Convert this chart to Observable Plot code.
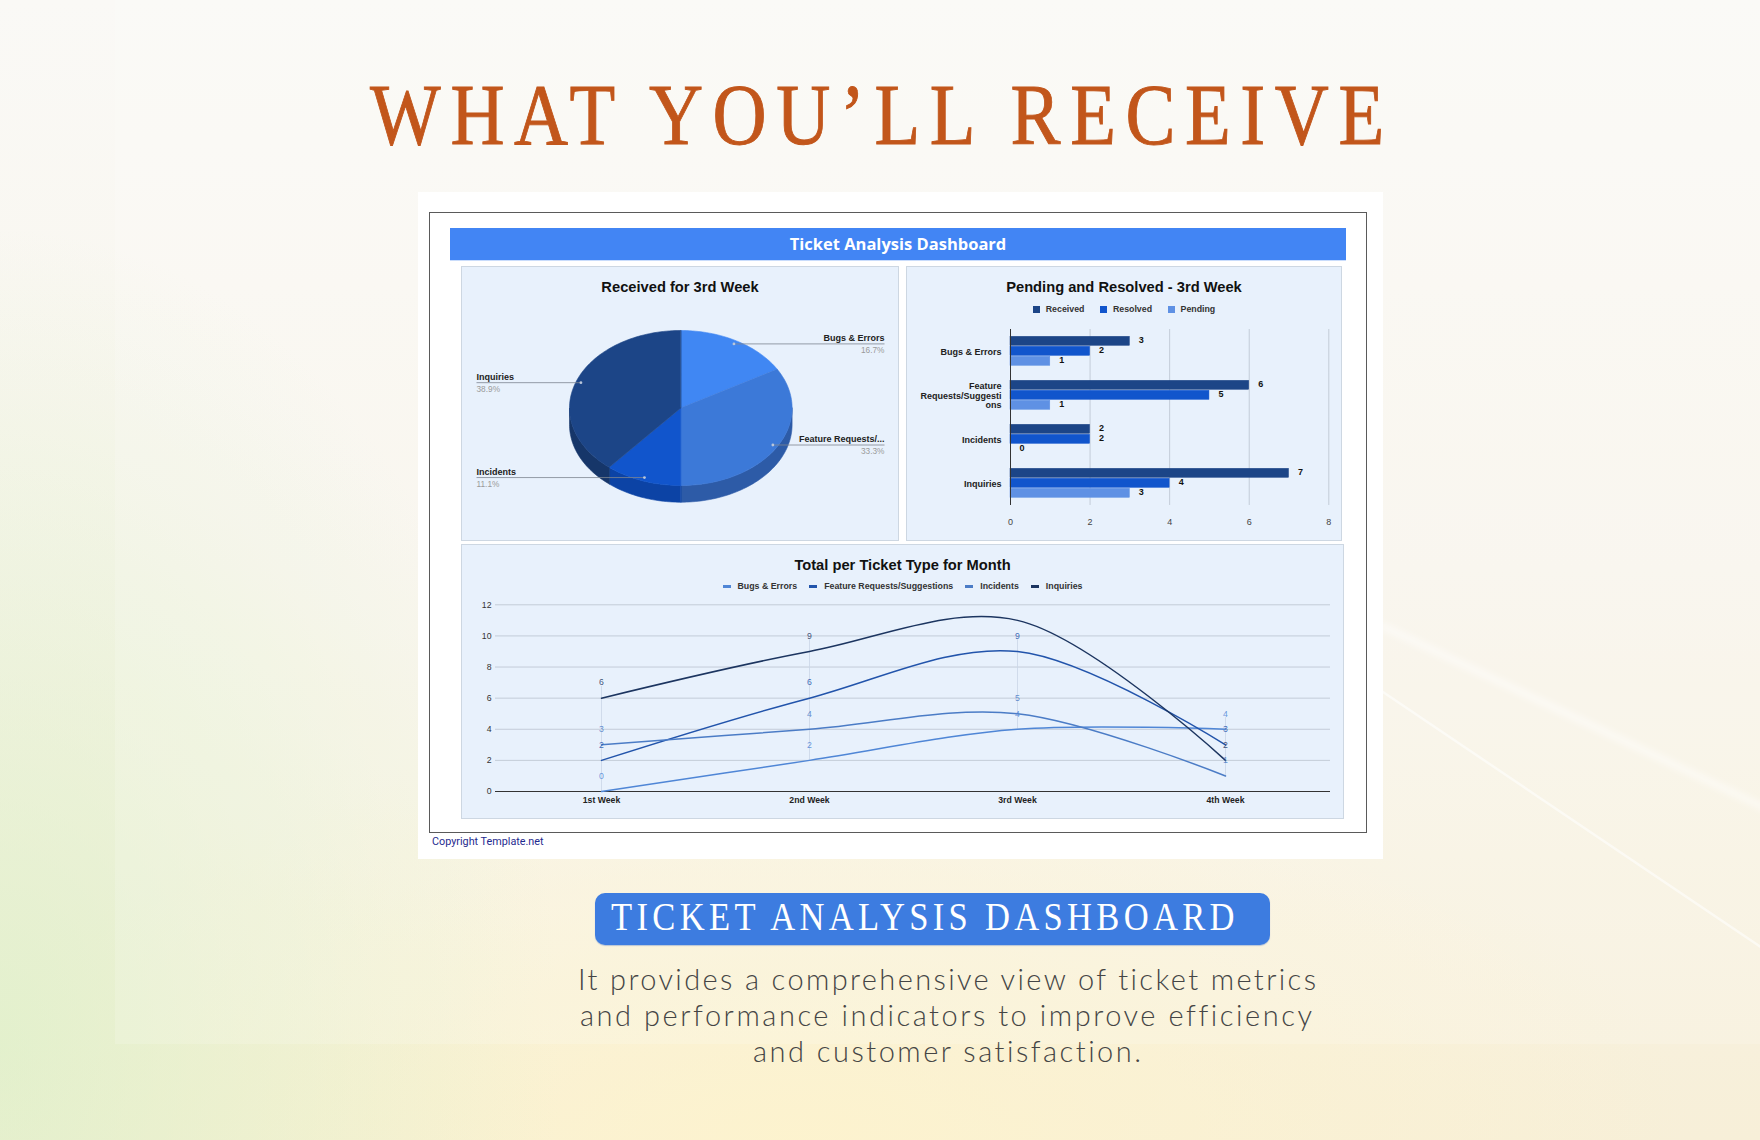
<!DOCTYPE html>
<html>
<head>
<meta charset="utf-8">
<script src="https://cdn.jsdelivr.net/npm/d3@7"></script>
<script src="https://cdn.jsdelivr.net/npm/@observablehq/plot@0.6"></script>
<style>
html, body { margin: 0; padding: 0; }
body { width: 1760px; height: 1140px; position: relative; overflow: hidden; font-family: "Liberation Sans", Arial, sans-serif; }
#bg { position: absolute; inset: 0;
  background:
    radial-gradient(ellipse 560px 820px at 0% 92%, rgba(220,240,200,0.75), rgba(220,240,200,0) 100%),
    radial-gradient(ellipse 900px 400px at 45% 100%, rgba(253,243,205,0.9), rgba(253,243,205,0) 100%),
    linear-gradient(to bottom, #faf9f6 0%, #f8f5ec 50%, #f7efd8 100%);
}
#veil { position: absolute; left: 115px; top: 0; width: 1645px; height: 1044px; background: rgba(255,255,255,0.16); }
#streaks { position: absolute; left: 0; top: 0; }
#card { position: absolute; left: 418px; top: 192px; width: 965px; height: 667px; background: #fff; }
#box { position: absolute; left: 429px; top: 212px; width: 938px; height: 621px; border: 1px solid #5a5a5a; box-sizing: border-box; }
#hdr { position: absolute; left: 450px; top: 228px; width: 896px; height: 32px; background: #4285f4; color: #fff;
  font-family: "Open Sans", sans-serif; font-weight: 700; font-size: 16.5px; line-height: 32px; text-align: center; box-shadow: 0 1px 0 #c9dcfb; }
.panel { position: absolute; background: #e8f1fc; box-shadow: inset 0 0 0 1px #cdd7e2; }
.panel svg { position: absolute; left: 0; top: 0; }
.ptitle { position: absolute; left: 0; right: 0; text-align: center; font-weight: 700; font-size: 14.7px; color: #111; line-height: 16px; }
.legend { position: absolute; left: 0; right: 0; display: flex; justify-content: center; align-items: center; font-size: 8.8px; font-weight: 700; color: #333; line-height: 10px; }
.legend .item { display: flex; align-items: center; }
.legend .sw { display: inline-block; }
#copy { position: absolute; left: 432px; top: 835px; font-family: Roboto, sans-serif; font-size: 10.8px; color: #1f2a8f; }
#pill { position: absolute; left: 595px; top: 893px; width: 675px; height: 52px; background: #3d7ce0; border-radius: 10px; box-shadow: 0 1px 1px rgba(60,110,200,0.35); }
#texts { position: absolute; left: 0; top: 0; }
</style>
</head>
<body>
<div id="bg"></div>
<div id="veil"></div>
<svg id="streaks" width="1760" height="1140">
  <defs><filter id="blur"><feGaussianBlur stdDeviation="3"/></filter></defs>
  <line x1="1380" y1="625" x2="1780" y2="815" stroke="#ffffff" stroke-opacity="0.5" stroke-width="7" filter="url(#blur)"/>
  <line x1="1380" y1="690" x2="1780" y2="960" stroke="#ffffff" stroke-opacity="0.55" stroke-width="2.5"/>
</svg>
<div id="card"></div>
<div id="box"></div>
<div id="hdr">Ticket Analysis Dashboard</div>

<div class="panel" id="p1" style="left:461px;top:266px;width:438px;height:275px;">
  <div class="ptitle" style="top:13px;">Received for 3rd Week</div>
</div>
<div class="panel" id="p2" style="left:906px;top:266px;width:436px;height:275px;">
  <div class="ptitle" style="top:13px;">Pending and Resolved - 3rd Week</div>
  <div class="legend" id="lg2" style="top:38px;"></div>
</div>
<div class="panel" id="p3" style="left:461px;top:544px;width:883px;height:275px;">
  <div class="ptitle" style="top:13px;">Total per Ticket Type for Month</div>
  <div class="legend" id="lg3" style="top:37px;"></div>
</div>

<div id="copy">Copyright Template.net</div>
<div id="pill"></div>

<svg id="texts" width="1760" height="1140">
  <text id="t1" x="882" y="144" text-anchor="middle" fill="#c2561b" stroke="#c2561b" stroke-width="0.9" font-family="Liberation Serif, serif" font-size="86" letter-spacing="11">WHAT YOU’LL RECEIVE</text>
  <text id="t2" x="925" y="930" text-anchor="middle" fill="#ffffff" font-family="Liberation Serif, serif" font-size="40" letter-spacing="5">TICKET ANALYSIS DASHBOARD</text>
  <g font-family="Lato, 'Open Sans', sans-serif" font-weight="300" font-size="29" fill="#454545" letter-spacing="1">
    <text x="578" y="990" textLength="739" lengthAdjust="spacing">It provides a comprehensive view of ticket metrics</text>
    <text x="580" y="1026" textLength="733" lengthAdjust="spacing">and performance indicators to improve efficiency</text>
    <text x="753" y="1062" textLength="389" lengthAdjust="spacing">and customer satisfaction.</text>
  </g>
</svg>

<script>
// ---------------- DATA ----------------
const ticketTypes = ["Bugs & Errors", "Feature Requests/Suggestions", "Incidents", "Inquiries"];
const pieLabels = ["Bugs & Errors", "Feature Requests/...", "Incidents", "Inquiries"];
const barCategoryLabels = ["Bugs & Errors", "Feature\nRequests/Suggesti\nons", "Incidents", "Inquiries"];
const barSeries = ["Received", "Resolved", "Pending"];
const receivedWeek3 = [3, 6, 2, 7];
const resolvedWeek3 = [2, 5, 2, 4];
const pendingWeek3 = [1, 1, 0, 3];
const barTicks = [0, 2, 4, 6, 8];
const weeks = ["1st Week", "2nd Week", "3rd Week", "4th Week"];
const bugsErrors = [0, 2, 4, 4];
const featureRequests = [2, 6, 9, 3];
const incidents = [3, 4, 5, 1];
const inquiries = [6, 9, 11, 2];
const lineTicks = [0, 2, 4, 6, 8, 10, 12];

// ---------------- STYLE ----------------
const FONT = "'Liberation Sans', Arial, sans-serif";
const pieTop = ["#4087f3", "#3c79d8", "#1155cc", "#1c4587"];
const pieSide = ["#2f66bd", "#2d5ba7", "#0c43a5", "#163669"];
const barColors = ["#1c4587", "#1155cc", "#5f91e4"];
const lineColors = ["#4f86d6", "#2254ab", "#4b7cc6", "#1c3560"];

// fit headline widths
function fitText(id, target, cx) {
  const el = document.getElementById(id);
  const w = el.getBBox().width;
  const s = target / w;
  el.setAttribute("transform", `translate(${cx},0) scale(${s},1) translate(${-cx},0)`);
}
fitText("t1", 1024, 882);
fitText("t2", 628, 925);

// ---------------- PIE ----------------
{
  const W = 438, H = 275;
  const cx = 219.3, cy = 141.5, rx = 111.3, ry = 77.5, depth = 16.7;
  const total = d3.sum(receivedWeek3);
  const arcs = d3.pie().sort(null).value(d => d)(receivedWeek3);
  const ex = (a, k = 1) => cx + k * rx * Math.sin(a);
  const ey = (a, k = 1) => cy - k * ry * Math.cos(a);
  const arcPts = (a0, a1, off = 0) => {
    const n = Math.max(2, Math.ceil((a1 - a0) / (Math.PI / 120)));
    return d3.range(n + 1).map(j => { const a = a0 + (a1 - a0) * j / n; return [ex(a), ey(a) + off]; });
  };
  const polys = [];
  arcs.forEach((a, i) => {
    const s0 = Math.max(a.startAngle, Math.PI / 2), s1 = Math.min(a.endAngle, 3 * Math.PI / 2);
    if (s0 < s1) {
      [...arcPts(s0, s1), ...arcPts(s0, s1, depth).reverse()]
        .forEach(([x, y]) => polys.push({ id: "side" + i, x, y, col: pieSide[i] }));
    }
  });
  arcs.forEach((a, i) => {
    [[cx, cy], ...arcPts(a.startAngle, a.endAngle)]
      .forEach(([x, y]) => polys.push({ id: "top" + i, x, y, col: pieTop[i] }));
  });
  const labels = arcs.map((a, i) => {
    const m = (a.startAngle + a.endAngle) / 2;
    const right = Math.sin(m) > 0;
    return {
      name: pieLabels[i], pct: d3.format(".1%")(a.value / total), right,
      dx: ex(m, 0.955), dy: ey(m, 0.955), lx: right ? 423 : 15
    };
  });
  const R = labels.filter(d => d.right), L = labels.filter(d => !d.right);
  const plot = Plot.plot({
    width: W, height: H, margin: 0,
    x: { domain: [0, W], range: [0, W], axis: null },
    y: { domain: [0, H], range: [0, H], axis: null },
    color: { type: "identity" },
    style: { background: "transparent", fontFamily: FONT, fontSize: "9px", overflow: "visible" },
    marks: [
      Plot.line(polys, { x: "x", y: "y", z: "id", fill: d => d.col, stroke: d => d.col, strokeWidth: 0.6, curve: "linear-closed" }),
      Plot.link(labels, { x1: "dx", y1: "dy", x2: "lx", y2: "dy", stroke: "#7d8590", strokeWidth: 0.8 }),
      Plot.dot(labels, { x: "dx", y: "dy", r: 1.4, fill: "#b9c6da" }),
      Plot.text(R, { x: "lx", y: "dy", text: "name", dy: -5.5, textAnchor: "end", fontWeight: "bold", fill: "#222" }),
      Plot.text(R, { x: "lx", y: "dy", text: "pct", dy: 6.3, textAnchor: "end", fill: "#9a9a9a", fontSize: 8.3 }),
      Plot.text(L, { x: "lx", y: "dy", text: "name", dy: -5.5, textAnchor: "start", fontWeight: "bold", fill: "#222" }),
      Plot.text(L, { x: "lx", y: "dy", text: "pct", dy: 6.3, textAnchor: "start", fill: "#9a9a9a", fontSize: 8.3 })
    ]
  });
  document.getElementById("p1").appendChild(plot);
}

// ---------------- BARS ----------------
{
  const seriesVals = [receivedWeek3, resolvedWeek3, pendingWeek3];
  const data = barCategoryLabels.flatMap((c, i) => barSeries.map((s, j) => ({ cat: c, series: s, value: seriesVals[j][i] })));
  const plot = Plot.plot({
    width: 436, height: 275,
    marginTop: 62.7, marginBottom: 36.3, marginLeft: 104, marginRight: 13.7,
    x: { domain: [0, 8], axis: null },
    y: { domain: barSeries, axis: null, paddingInner: 0.06, paddingOuter: 0.7 },
    fy: { domain: barCategoryLabels, padding: 0, axis: null },
    color: { domain: barSeries, range: barColors },
    style: { background: "transparent", fontFamily: FONT, fontSize: "9px", overflow: "visible" },
    marks: [
      Plot.gridX(barTicks.filter(t => t > 0), { stroke: "#c3ccd8", strokeOpacity: 1 }),
      Plot.barX(data, { x: "value", y: "series", fy: "cat", fill: "series", stroke: "series", strokeWidth: 0.5 }),
      Plot.text(data, { x: "value", y: "series", fy: "cat", text: d => String(d.value), dx: 9, dy: -1, textAnchor: "start", fontWeight: "bold", fill: "#111" }),
      Plot.ruleX([0], { stroke: "#333", strokeWidth: 1 }),
      Plot.axisX({ ticks: barTicks, tickSize: 0, tickPadding: 13, fill: "#444", label: null }),
      Plot.axisFy({ anchor: "left", tickSize: 0, tickPadding: 9, label: null, fontWeight: "bold", fill: "#222", lineHeight: 1.05 })
    ]
  });
  document.getElementById("p2").appendChild(plot);
  const lg = document.getElementById("lg2");
  barSeries.forEach((s, i) => {
    const it = document.createElement("div");
    it.className = "item";
    it.style.marginRight = i < barSeries.length - 1 ? "15.5px" : "0";
    it.innerHTML = `<span class="sw" style="width:7px;height:7px;background:${barColors[i]};margin-right:6px"></span>${s}`;
    lg.appendChild(it);
  });
}

// ---------------- LINES ----------------
{
  const seriesVals = [bugsErrors, featureRequests, incidents, inquiries];
  const data = ticketTypes.flatMap((s, i) => weeks.map((w, j) => ({ series: s, week: w, value: seriesVals[i][j] })));
  const shown = data.filter(d => !(d.series === "Inquiries" && d.week === "3rd Week"));
  const spans = weeks.map(w => {
    const v = shown.filter(d => d.week === w).map(d => d.value);
    return { week: w, lo: d3.min(v), hi: d3.max(v) + 0.75 };
  });
  const plot = Plot.plot({
    width: 883, height: 275,
    marginTop: 60.3, marginBottom: 28, marginLeft: 34, marginRight: 14,
    x: { type: "point", domain: weeks, padding: 0.5, axis: null },
    y: { domain: [0, 12], axis: null },
    color: { domain: ticketTypes, range: lineColors },
    style: { background: "transparent", fontFamily: FONT, fontSize: "8.7px", overflow: "visible" },
    marks: [
      Plot.gridY(lineTicks.filter(t => t > 0), { stroke: "#c3ccd8", strokeOpacity: 1 }),
      Plot.ruleX(spans, { x: "week", y1: "lo", y2: "hi", stroke: "#c9d6e6", strokeWidth: 0.8 }),
      Plot.ruleY([0], { stroke: "#333", strokeWidth: 1 }),
      Plot.line(data, { x: "week", y: "value", z: "series", stroke: "series", curve: "catmull-rom", strokeWidth: 1.5 }),
      Plot.text(shown, { x: "week", y: "value", text: d => String(d.value), dy: -15.5, fill: "series", fillOpacity: 0.85 }),
      Plot.axisY({ ticks: lineTicks, tickSize: 0, tickPadding: 4, fill: "#333", label: null }),
      Plot.axisX({ tickSize: 0, tickPadding: 5, fontWeight: "bold", fill: "#222", label: null })
    ]
  });
  document.getElementById("p3").appendChild(plot);
  const lg = document.getElementById("lg3");
  ticketTypes.forEach((s, i) => {
    const it = document.createElement("div");
    it.className = "item";
    it.style.marginRight = i < ticketTypes.length - 1 ? "12px" : "0";
    it.innerHTML = `<span class="sw" style="width:8px;height:3px;background:${lineColors[i]};margin-right:7px"></span>${s}`;
    lg.appendChild(it);
  });
}
</script>
</body>
</html>
